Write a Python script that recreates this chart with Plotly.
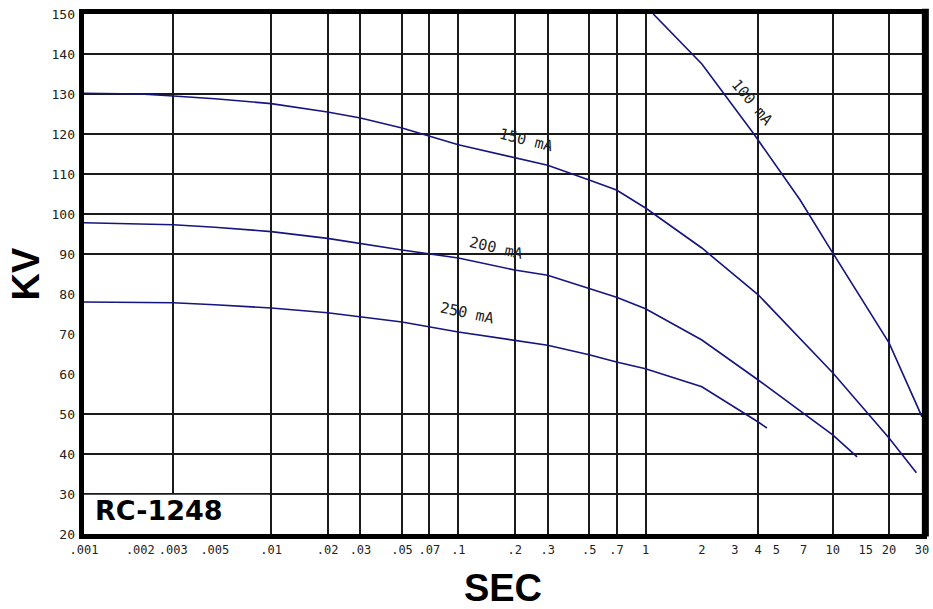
import plotly.graph_objects as go
import math

# ---------------- data ----------------
sec_100ma = [1.1, 2.0, 3.75, 6.7, 10.0, 20.0, 30.0]
kv_100ma = [150.0, 137.5, 120.3, 103.5, 90.3, 67.8, 49.3]

sec_150ma = [0.001, 0.002, 0.003, 0.005, 0.01, 0.02, 0.03, 0.05, 0.1, 0.2, 0.3, 0.5, 0.7, 1.0, 2.0, 4.0, 10.0, 20.0, 28.0]
kv_150ma = [130.2, 130.0, 129.5, 128.8, 127.6, 125.5, 124.0, 121.5, 117.3, 114.0, 112.2, 108.5, 106.0, 101.5, 91.5, 79.8, 60.3, 44.0, 35.3]

sec_200ma = [0.001, 0.002, 0.003, 0.005, 0.01, 0.02, 0.03, 0.05, 0.1, 0.2, 0.3, 0.5, 0.7, 1.0, 2.0, 4.0, 10.0, 13.5]
kv_200ma = [97.8, 97.6, 97.3, 96.7, 95.6, 93.9, 92.6, 91.0, 89.0, 86.0, 84.7, 81.5, 79.2, 76.3, 68.5, 58.5, 44.8, 39.3]

sec_250ma = [0.001, 0.003, 0.005, 0.01, 0.02, 0.03, 0.05, 0.1, 0.2, 0.3, 0.5, 0.7, 1.0, 2.0, 4.0, 4.45]
kv_250ma = [78.0, 77.8, 77.3, 76.5, 75.3, 74.3, 73.0, 70.5, 68.5, 67.2, 64.8, 63.0, 61.3, 56.8, 48.0, 46.5]

series_names = ["100 mA", "150 mA", "200 mA", "250 mA"]

x_grid_vals = [0.003, 0.01, 0.02, 0.03, 0.05, 0.07, 0.1, 0.2, 0.3, 0.5, 0.7, 1, 4, 10, 20]
x_tick_vals = [0.001, 0.002, 0.003, 0.005, 0.01, 0.02, 0.03, 0.05, 0.07, 0.1,
               0.2, 0.3, 0.5, 0.7, 1, 2, 3, 4, 5, 7, 10, 15, 20, 30]
x_tick_text = [".001", ".002", ".003", ".005", ".01", ".02", ".03", ".05", ".07", ".1",
               ".2", ".3", ".5", ".7", "1", "2", "3", "4", "5", "7", "10", "15", "20", "30"]
y_grid_vals = [30, 40, 50, 90, 100, 110, 120, 130, 140]
y_tick_vals = [20, 30, 40, 50, 60, 70, 80, 90, 100, 110, 120, 130, 140, 150]
y_tick_text = [str(v) for v in y_tick_vals]

x_range = [0.001, 30]
y_range = [20, 150]

# label anchor points (data coords) and angles for curve labels
label_x = [3.7, 0.23, 0.159, 0.111]
label_y = [128.0, 118.5, 91.5, 75.3]
label_angle = [50, 14, 13, 12]

# ---------------- figure ----------------
LINE_COLOR = "#15157f"
GRID_COLOR = "#1a1a1a"
MONO = "DejaVu Sans Mono"

fig = go.Figure()
for xs, ys, name in zip([sec_100ma, sec_150ma, sec_200ma, sec_250ma],
                        [kv_100ma, kv_150ma, kv_200ma, kv_250ma], series_names):
    fig.add_trace(go.Scatter(x=xs, y=ys, mode="lines", name=name,
                             line=dict(color=LINE_COLOR, width=1.6),
                             showlegend=False))

# empty trace so the labelled overlay axes (x2/y2) get a subplot and are drawn
fig.add_trace(go.Scatter(x=[None], y=[None], xaxis="x2", yaxis="y2", mode="lines",
                         showlegend=False, hoverinfo="skip"))

for lx, ly, la, name in zip(label_x, label_y, label_angle, series_names):
    fig.add_annotation(x=math.log10(lx), y=ly, xref="x", yref="y", text=name,
                       textangle=la, showarrow=False,
                       font=dict(family=MONO, size=15, color="#222222"))

log_range = [math.log10(x_range[0]), math.log10(x_range[1])]

fig.update_layout(
    width=933, height=609,
    margin=dict(l=84, r=11, t=14, b=75, autoexpand=False),
    paper_bgcolor="white", plot_bgcolor="white",
    xaxis=dict(type="log", range=log_range, tickmode="array", tickvals=x_grid_vals,
               showticklabels=False, ticks="", showgrid=True, gridcolor=GRID_COLOR,
               gridwidth=1.5, zeroline=False, showline=True, linecolor="black",
               linewidth=5, mirror=True, automargin=False),
    yaxis=dict(range=y_range, tickmode="array", tickvals=y_grid_vals,
               showticklabels=False, ticks="", showgrid=True, gridcolor=GRID_COLOR,
               gridwidth=1.5, zeroline=False, showline=True, linecolor="black",
               linewidth=5, mirror=True, automargin=False),
    xaxis2=dict(type="log", range=log_range, overlaying="x", anchor="y2", side="bottom",
                tickmode="array", tickvals=x_tick_vals, ticktext=x_tick_text,
                tickangle=0, automargin=False,
                showgrid=False, zeroline=False, showline=False, ticks="",
                ticklabelstandoff=7,
                tickfont=dict(family=MONO, size=12, color="#222222"),
                title=dict(text="SEC", standoff=20,
                           font=dict(family="Liberation Sans", size=38, weight="bold", color="black"))),
    yaxis2=dict(range=y_range, overlaying="y", anchor="x2", side="left",
                tickmode="array", tickvals=y_tick_vals, ticktext=y_tick_text,
                automargin=False,
                showgrid=False, zeroline=False, showline=False, ticks="",
                ticklabelstandoff=8,
                tickfont=dict(family=MONO, size=13, color="#222222"),
                title=dict(text="KV", standoff=0,
                           font=dict(family="Liberation Sans", size=38, weight="bold", color="black"))),
)

# white box behind the model label (covers grid lines in the corner)
fig.add_shape(type="rect", xref="x", yref="y", x0=x_range[0], x1=0.0098, y0=y_range[0], y1=29.8,
              fillcolor="white", line=dict(width=0), layer="between")
# heavier right border
fig.add_shape(type="line", xref="paper", yref="paper", x0=1.004, x1=1.004, y0=-0.005, y1=1.01,
              line=dict(color="black", width=7))

fig.add_annotation(xref="paper", yref="paper", x=0.011, y=0.045, xanchor="left", yanchor="middle",
                   text="RC-1248", showarrow=False,
                   font=dict(family="DejaVu Sans", size=27, weight="bold", color="black"))

fig.write_html("out.html", config={"displayModeBar": False},
               post_script="document.body.style.margin='0px';")
